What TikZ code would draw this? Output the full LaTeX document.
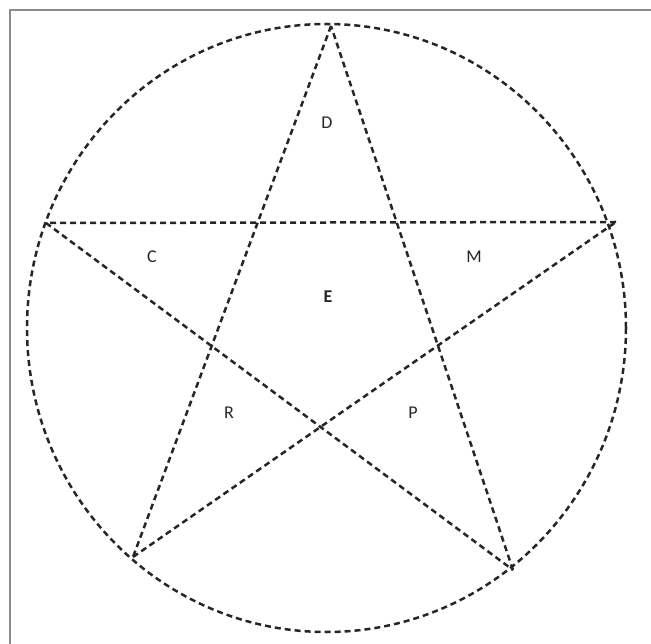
\documentclass[tikz,border=0pt]{standalone}
\usepackage{fontspec}
\setmainfont{Carlito}
\usetikzlibrary{positioning}

\begin{document}
\begin{tikzpicture}[
		x=1pt, y=-1pt,
		dline/.style={draw=black!85, line width=2.5pt, dash pattern=on 6pt off 4pt},
		lbl/.style={font=\fontsize{18}{21}\selectfont, text=black!85, inner sep=0pt},
		frame/.style={draw=gray!90, line width=1.6pt}
		]
		\useasboundingbox (0,0) rectangle (651,644);
		
		% ==========================================
		% FRAME
		% ==========================================
		\draw[frame] (10,644) -- (10,10) -- (651,10);
		
		% ==========================================
		% CIRCLE AND STAR POINTS
		% ==========================================
		\coordinate (centre) at (326.5,328);
		\draw[dline] (centre) ellipse [x radius=299.5, y radius=304];
		
		\coordinate (top) at (331,26);
		\coordinate (left) at (46,223);
		\coordinate (right) at (616,222);
		\coordinate (botleft) at (133,557);
		\coordinate (botright) at (513,570);
		
		% star lines
		\draw[dline] (top) -- (botleft);
		\draw[dline] (botleft) -- (right);
		\draw[dline] (right) -- (left);
		\draw[dline] (left) -- (botright);
		\draw[dline] (botright) -- (top);
		
		% ==========================================
		% LABELS
		% ==========================================
		\node[lbl] (d) at (327,123) {D};
		\node[lbl] (c) at (152,257) {C};
		\node[lbl] (m) at (474,257) {M};
		\node[lbl, font=\fontsize{18}{21}\selectfont\bfseries] (e) at (328,297) {E};
		\node[lbl] (r) at (229,413) {R};
		\node[lbl] (p) at (413,413) {P};
		
	\end{tikzpicture}
\end{document}
